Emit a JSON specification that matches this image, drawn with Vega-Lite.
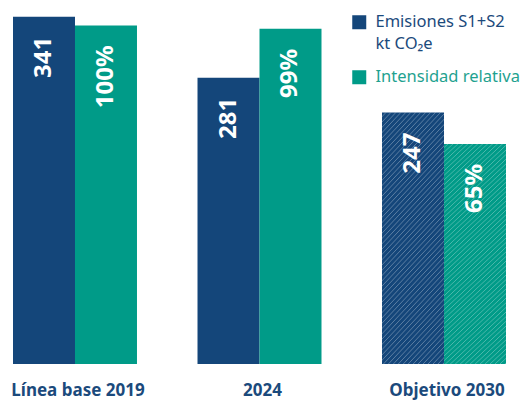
{
  "$schema": "https://vega.github.io/schema/vega-lite/v6.json",
  "width": 493,
  "height": 364,
  "autosize": {"type": "none"},
  "padding": {"left": 13, "top": 0, "right": 17, "bottom": 36},
  "background": "white",
  "config": {"font": "Noto Sans", "view": {"stroke": null}},
  "data": {
    "values": [
      {"grupo": "Línea base 2019", "serie": "Emisiones S1+S2 kt CO₂e", "valor": 341},
      {"grupo": "2024", "serie": "Emisiones S1+S2 kt CO₂e", "valor": 281},
      {"grupo": "Objetivo 2030", "serie": "Emisiones S1+S2 kt CO₂e", "valor": 247},
      {"grupo": "Línea base 2019", "serie": "Intensidad relativa", "valor": 1.0},
      {"grupo": "2024", "serie": "Intensidad relativa", "valor": 0.99},
      {"grupo": "Objetivo 2030", "serie": "Intensidad relativa", "valor": 0.65}
    ]
  },
  "encoding": {
    "x": {
      "field": "grupo", "type": "nominal",
      "sort": ["Línea base 2019", "2024", "Objetivo 2030"],
      "scale": {"paddingInner": 0.328, "paddingOuter": 0},
      "axis": {"title": null, "labelAngle": 0, "domain": false, "ticks": false, "tickSize": 0, "grid": false, "labelOffset": 3,
               "labelPadding": 18, "labelFontSize": 17, "labelFontWeight": "bold", "labelColor": "#1B4A7C", "labelFont": "Noto Sans"}
    },
    "xOffset": {
      "field": "serie", "type": "nominal",
      "sort": ["Emisiones S1+S2 kt CO₂e", "Intensidad relativa"],
      "scale": {"paddingInner": 0, "paddingOuter": 0}
    }
  },
  "layer": [
    {
      "transform": [{"filter": "datum.serie == 'Emisiones S1+S2 kt CO₂e'"}],
      "encoding": {"y": {"field": "valor", "type": "quantitative", "scale": {"domain": [0, 357.4], "nice": false}, "axis": null}},
      "layer": [
        {
          "mark": {"type": "bar"},
          "encoding": {
            "color": {
              "field": "serie", "type": "nominal",
              "scale": {"domain": ["Emisiones S1+S2 kt CO₂e", "Intensidad relativa"], "range": ["#14467A", "#009B88"]},
              "legend": {
                "title": null, "orient": "none", "legendX": 338, "legendY": 14,
                "symbolType": "square", "symbolSize": 196, "symbolStrokeWidth": 0,
                "labelFontSize": 16.5, "labelFont": "Noto Sans", "labelOffset": 8, "rowPadding": 16, "labelLimit": 300,
                "labelExpr": "datum.label == 'Intensidad relativa' ? datum.label : ['Emisiones S1+S2', 'kt CO₂e']",
                "encode": {"labels": {"update": {"fill": {"signal": "datum.label == 'Intensidad relativa' ? '#1FA290' : '#1B4A7C'"}, "lineHeight": {"value": 22}}}}
              }
            }
          }
        },
        {
          "transform": [{"filter": "datum.grupo == 'Objetivo 2030'"}],
          "mark": {"type": "bar", "fill": {"gradient": "linear", "x1": 0, "y1": 0, "x2": 0.3107, "y2": 1.181, "stops": [
            {"offset":0,"color":"rgba(255,255,255,0)"},{"offset":0.01,"color":"rgba(255,255,255,0)"},{"offset":0.0133,"color":"rgba(255,255,255,0.3)"},
            {"offset":0.0167,"color":"rgba(255,255,255,0)"},{"offset":0.0267,"color":"rgba(255,255,255,0)"},{"offset":0.03,"color":"rgba(255,255,255,0.3)"},
            {"offset":0.0333,"color":"rgba(255,255,255,0)"},{"offset":0.0433,"color":"rgba(255,255,255,0)"},{"offset":0.0467,"color":"rgba(255,255,255,0.3)"},
            {"offset":0.05,"color":"rgba(255,255,255,0)"},{"offset":0.06,"color":"rgba(255,255,255,0)"},{"offset":0.0633,"color":"rgba(255,255,255,0.3)"},
            {"offset":0.0667,"color":"rgba(255,255,255,0)"},{"offset":0.0767,"color":"rgba(255,255,255,0)"},{"offset":0.08,"color":"rgba(255,255,255,0.3)"},
            {"offset":0.0833,"color":"rgba(255,255,255,0)"},{"offset":0.0933,"color":"rgba(255,255,255,0)"},{"offset":0.0967,"color":"rgba(255,255,255,0.3)"},
            {"offset":0.1,"color":"rgba(255,255,255,0)"},{"offset":0.11,"color":"rgba(255,255,255,0)"},{"offset":0.1133,"color":"rgba(255,255,255,0.3)"},
            {"offset":0.1167,"color":"rgba(255,255,255,0)"},{"offset":0.1267,"color":"rgba(255,255,255,0)"},{"offset":0.13,"color":"rgba(255,255,255,0.3)"},
            {"offset":0.1333,"color":"rgba(255,255,255,0)"},{"offset":0.1433,"color":"rgba(255,255,255,0)"},{"offset":0.1467,"color":"rgba(255,255,255,0.3)"},
            {"offset":0.15,"color":"rgba(255,255,255,0)"},{"offset":0.16,"color":"rgba(255,255,255,0)"},{"offset":0.1633,"color":"rgba(255,255,255,0.3)"},
            {"offset":0.1667,"color":"rgba(255,255,255,0)"},{"offset":0.1767,"color":"rgba(255,255,255,0)"},{"offset":0.18,"color":"rgba(255,255,255,0.3)"},
            {"offset":0.1833,"color":"rgba(255,255,255,0)"},{"offset":0.1933,"color":"rgba(255,255,255,0)"},{"offset":0.1967,"color":"rgba(255,255,255,0.3)"},
            {"offset":0.2,"color":"rgba(255,255,255,0)"},{"offset":0.21,"color":"rgba(255,255,255,0)"},{"offset":0.2133,"color":"rgba(255,255,255,0.3)"},
            {"offset":0.2167,"color":"rgba(255,255,255,0)"},{"offset":0.2267,"color":"rgba(255,255,255,0)"},{"offset":0.23,"color":"rgba(255,255,255,0.3)"},
            {"offset":0.2333,"color":"rgba(255,255,255,0)"},{"offset":0.2433,"color":"rgba(255,255,255,0)"},{"offset":0.2467,"color":"rgba(255,255,255,0.3)"},
            {"offset":0.25,"color":"rgba(255,255,255,0)"},{"offset":0.26,"color":"rgba(255,255,255,0)"},{"offset":0.2633,"color":"rgba(255,255,255,0.3)"},
            {"offset":0.2667,"color":"rgba(255,255,255,0)"},{"offset":0.2767,"color":"rgba(255,255,255,0)"},{"offset":0.28,"color":"rgba(255,255,255,0.3)"},
            {"offset":0.2833,"color":"rgba(255,255,255,0)"},{"offset":0.2933,"color":"rgba(255,255,255,0)"},{"offset":0.2967,"color":"rgba(255,255,255,0.3)"},
            {"offset":0.3,"color":"rgba(255,255,255,0)"},{"offset":0.31,"color":"rgba(255,255,255,0)"},{"offset":0.3133,"color":"rgba(255,255,255,0.3)"},
            {"offset":0.3167,"color":"rgba(255,255,255,0)"},{"offset":0.3267,"color":"rgba(255,255,255,0)"},{"offset":0.33,"color":"rgba(255,255,255,0.3)"},
            {"offset":0.3333,"color":"rgba(255,255,255,0)"},{"offset":0.3433,"color":"rgba(255,255,255,0)"},{"offset":0.3467,"color":"rgba(255,255,255,0.3)"},
            {"offset":0.35,"color":"rgba(255,255,255,0)"},{"offset":0.36,"color":"rgba(255,255,255,0)"},{"offset":0.3633,"color":"rgba(255,255,255,0.3)"},
            {"offset":0.3667,"color":"rgba(255,255,255,0)"},{"offset":0.3767,"color":"rgba(255,255,255,0)"},{"offset":0.38,"color":"rgba(255,255,255,0.3)"},
            {"offset":0.3833,"color":"rgba(255,255,255,0)"},{"offset":0.3933,"color":"rgba(255,255,255,0)"},{"offset":0.3967,"color":"rgba(255,255,255,0.3)"},
            {"offset":0.4,"color":"rgba(255,255,255,0)"},{"offset":0.41,"color":"rgba(255,255,255,0)"},{"offset":0.4133,"color":"rgba(255,255,255,0.3)"},
            {"offset":0.4167,"color":"rgba(255,255,255,0)"},{"offset":0.4267,"color":"rgba(255,255,255,0)"},{"offset":0.43,"color":"rgba(255,255,255,0.3)"},
            {"offset":0.4333,"color":"rgba(255,255,255,0)"},{"offset":0.4433,"color":"rgba(255,255,255,0)"},{"offset":0.4467,"color":"rgba(255,255,255,0.3)"},
            {"offset":0.45,"color":"rgba(255,255,255,0)"},{"offset":0.46,"color":"rgba(255,255,255,0)"},{"offset":0.4633,"color":"rgba(255,255,255,0.3)"},
            {"offset":0.4667,"color":"rgba(255,255,255,0)"},{"offset":0.4767,"color":"rgba(255,255,255,0)"},{"offset":0.48,"color":"rgba(255,255,255,0.3)"},
            {"offset":0.4833,"color":"rgba(255,255,255,0)"},{"offset":0.4933,"color":"rgba(255,255,255,0)"},{"offset":0.4967,"color":"rgba(255,255,255,0.3)"},
            {"offset":0.5,"color":"rgba(255,255,255,0)"},{"offset":0.51,"color":"rgba(255,255,255,0)"},{"offset":0.5133,"color":"rgba(255,255,255,0.3)"},
            {"offset":0.5167,"color":"rgba(255,255,255,0)"},{"offset":0.5267,"color":"rgba(255,255,255,0)"},{"offset":0.53,"color":"rgba(255,255,255,0.3)"},
            {"offset":0.5333,"color":"rgba(255,255,255,0)"},{"offset":0.5433,"color":"rgba(255,255,255,0)"},{"offset":0.5467,"color":"rgba(255,255,255,0.3)"},
            {"offset":0.55,"color":"rgba(255,255,255,0)"},{"offset":0.56,"color":"rgba(255,255,255,0)"},{"offset":0.5633,"color":"rgba(255,255,255,0.3)"},
            {"offset":0.5667,"color":"rgba(255,255,255,0)"},{"offset":0.5767,"color":"rgba(255,255,255,0)"},{"offset":0.58,"color":"rgba(255,255,255,0.3)"},
            {"offset":0.5833,"color":"rgba(255,255,255,0)"},{"offset":0.5933,"color":"rgba(255,255,255,0)"},{"offset":0.5967,"color":"rgba(255,255,255,0.3)"},
            {"offset":0.6,"color":"rgba(255,255,255,0)"},{"offset":0.61,"color":"rgba(255,255,255,0)"},{"offset":0.6133,"color":"rgba(255,255,255,0.3)"},
            {"offset":0.6167,"color":"rgba(255,255,255,0)"},{"offset":0.6267,"color":"rgba(255,255,255,0)"},{"offset":0.63,"color":"rgba(255,255,255,0.3)"},
            {"offset":0.6333,"color":"rgba(255,255,255,0)"},{"offset":0.6433,"color":"rgba(255,255,255,0)"},{"offset":0.6467,"color":"rgba(255,255,255,0.3)"},
            {"offset":0.65,"color":"rgba(255,255,255,0)"},{"offset":0.66,"color":"rgba(255,255,255,0)"},{"offset":0.6633,"color":"rgba(255,255,255,0.3)"},
            {"offset":0.6667,"color":"rgba(255,255,255,0)"},{"offset":0.6767,"color":"rgba(255,255,255,0)"},{"offset":0.68,"color":"rgba(255,255,255,0.3)"},
            {"offset":0.6833,"color":"rgba(255,255,255,0)"},{"offset":0.6933,"color":"rgba(255,255,255,0)"},{"offset":0.6967,"color":"rgba(255,255,255,0.3)"},
            {"offset":0.7,"color":"rgba(255,255,255,0)"},{"offset":0.71,"color":"rgba(255,255,255,0)"},{"offset":0.7133,"color":"rgba(255,255,255,0.3)"},
            {"offset":0.7167,"color":"rgba(255,255,255,0)"},{"offset":0.7267,"color":"rgba(255,255,255,0)"},{"offset":0.73,"color":"rgba(255,255,255,0.3)"},
            {"offset":0.7333,"color":"rgba(255,255,255,0)"},{"offset":0.7433,"color":"rgba(255,255,255,0)"},{"offset":0.7467,"color":"rgba(255,255,255,0.3)"},
            {"offset":0.75,"color":"rgba(255,255,255,0)"},{"offset":0.76,"color":"rgba(255,255,255,0)"},{"offset":0.7633,"color":"rgba(255,255,255,0.3)"},
            {"offset":0.7667,"color":"rgba(255,255,255,0)"},{"offset":0.7767,"color":"rgba(255,255,255,0)"},{"offset":0.78,"color":"rgba(255,255,255,0.3)"},
            {"offset":0.7833,"color":"rgba(255,255,255,0)"},{"offset":0.7933,"color":"rgba(255,255,255,0)"},{"offset":0.7967,"color":"rgba(255,255,255,0.3)"},
            {"offset":0.8,"color":"rgba(255,255,255,0)"},{"offset":0.81,"color":"rgba(255,255,255,0)"},{"offset":0.8133,"color":"rgba(255,255,255,0.3)"},
            {"offset":0.8167,"color":"rgba(255,255,255,0)"},{"offset":0.8267,"color":"rgba(255,255,255,0)"},{"offset":0.83,"color":"rgba(255,255,255,0.3)"},
            {"offset":0.8333,"color":"rgba(255,255,255,0)"},{"offset":0.8433,"color":"rgba(255,255,255,0)"},{"offset":0.8467,"color":"rgba(255,255,255,0.3)"},
            {"offset":0.85,"color":"rgba(255,255,255,0)"},{"offset":0.86,"color":"rgba(255,255,255,0)"},{"offset":0.8633,"color":"rgba(255,255,255,0.3)"},
            {"offset":0.8667,"color":"rgba(255,255,255,0)"},{"offset":0.8767,"color":"rgba(255,255,255,0)"},{"offset":0.88,"color":"rgba(255,255,255,0.3)"},
            {"offset":0.8833,"color":"rgba(255,255,255,0)"},{"offset":0.8933,"color":"rgba(255,255,255,0)"},{"offset":0.8967,"color":"rgba(255,255,255,0.3)"},
            {"offset":0.9,"color":"rgba(255,255,255,0)"},{"offset":0.91,"color":"rgba(255,255,255,0)"},{"offset":0.9133,"color":"rgba(255,255,255,0.3)"},
            {"offset":0.9167,"color":"rgba(255,255,255,0)"},{"offset":0.9267,"color":"rgba(255,255,255,0)"},{"offset":0.93,"color":"rgba(255,255,255,0.3)"},
            {"offset":0.9333,"color":"rgba(255,255,255,0)"},{"offset":0.9433,"color":"rgba(255,255,255,0)"},{"offset":0.9467,"color":"rgba(255,255,255,0.3)"},
            {"offset":0.95,"color":"rgba(255,255,255,0)"},{"offset":0.96,"color":"rgba(255,255,255,0)"},{"offset":0.9633,"color":"rgba(255,255,255,0.3)"},
            {"offset":0.9667,"color":"rgba(255,255,255,0)"},{"offset":0.9767,"color":"rgba(255,255,255,0)"},{"offset":0.98,"color":"rgba(255,255,255,0.3)"},
            {"offset":0.9833,"color":"rgba(255,255,255,0)"},{"offset":0.9933,"color":"rgba(255,255,255,0)"},{"offset":0.9967,"color":"rgba(255,255,255,0.3)"},
            {"offset":1,"color":"rgba(255,255,255,0)"}
          ]}}
        },
        {
          "mark": {"type": "text", "angle": -90, "align": "right", "baseline": "middle", "dx": -20, "fontSize": 24, "fontWeight": "bold", "fill": "white", "font": "Noto Sans"},
          "encoding": {"text": {"field": "valor", "type": "quantitative", "format": "d"}}
        }
      ]
    },
    {
      "transform": [{"filter": "datum.serie == 'Intensidad relativa'"}],
      "encoding": {"y": {"field": "valor", "type": "quantitative", "scale": {"domain": [0, 1.075], "nice": false}, "axis": null}},
      "layer": [
        {
          "mark": {"type": "bar"},
          "encoding": {
            "color": {
              "field": "serie", "type": "nominal",
              "scale": {"domain": ["Emisiones S1+S2 kt CO₂e", "Intensidad relativa"], "range": ["#14467A", "#009B88"]}
            }
          }
        },
        {
          "transform": [{"filter": "datum.grupo == 'Objetivo 2030'"}],
          "mark": {"type": "bar", "fill": {"gradient": "linear", "x1": 0, "y1": 0, "x2": 0.3107, "y2": 1.181, "stops": [
            {"offset":0,"color":"rgba(255,255,255,0)"},{"offset":0.01,"color":"rgba(255,255,255,0)"},{"offset":0.0133,"color":"rgba(255,255,255,0.3)"},
            {"offset":0.0167,"color":"rgba(255,255,255,0)"},{"offset":0.0267,"color":"rgba(255,255,255,0)"},{"offset":0.03,"color":"rgba(255,255,255,0.3)"},
            {"offset":0.0333,"color":"rgba(255,255,255,0)"},{"offset":0.0433,"color":"rgba(255,255,255,0)"},{"offset":0.0467,"color":"rgba(255,255,255,0.3)"},
            {"offset":0.05,"color":"rgba(255,255,255,0)"},{"offset":0.06,"color":"rgba(255,255,255,0)"},{"offset":0.0633,"color":"rgba(255,255,255,0.3)"},
            {"offset":0.0667,"color":"rgba(255,255,255,0)"},{"offset":0.0767,"color":"rgba(255,255,255,0)"},{"offset":0.08,"color":"rgba(255,255,255,0.3)"},
            {"offset":0.0833,"color":"rgba(255,255,255,0)"},{"offset":0.0933,"color":"rgba(255,255,255,0)"},{"offset":0.0967,"color":"rgba(255,255,255,0.3)"},
            {"offset":0.1,"color":"rgba(255,255,255,0)"},{"offset":0.11,"color":"rgba(255,255,255,0)"},{"offset":0.1133,"color":"rgba(255,255,255,0.3)"},
            {"offset":0.1167,"color":"rgba(255,255,255,0)"},{"offset":0.1267,"color":"rgba(255,255,255,0)"},{"offset":0.13,"color":"rgba(255,255,255,0.3)"},
            {"offset":0.1333,"color":"rgba(255,255,255,0)"},{"offset":0.1433,"color":"rgba(255,255,255,0)"},{"offset":0.1467,"color":"rgba(255,255,255,0.3)"},
            {"offset":0.15,"color":"rgba(255,255,255,0)"},{"offset":0.16,"color":"rgba(255,255,255,0)"},{"offset":0.1633,"color":"rgba(255,255,255,0.3)"},
            {"offset":0.1667,"color":"rgba(255,255,255,0)"},{"offset":0.1767,"color":"rgba(255,255,255,0)"},{"offset":0.18,"color":"rgba(255,255,255,0.3)"},
            {"offset":0.1833,"color":"rgba(255,255,255,0)"},{"offset":0.1933,"color":"rgba(255,255,255,0)"},{"offset":0.1967,"color":"rgba(255,255,255,0.3)"},
            {"offset":0.2,"color":"rgba(255,255,255,0)"},{"offset":0.21,"color":"rgba(255,255,255,0)"},{"offset":0.2133,"color":"rgba(255,255,255,0.3)"},
            {"offset":0.2167,"color":"rgba(255,255,255,0)"},{"offset":0.2267,"color":"rgba(255,255,255,0)"},{"offset":0.23,"color":"rgba(255,255,255,0.3)"},
            {"offset":0.2333,"color":"rgba(255,255,255,0)"},{"offset":0.2433,"color":"rgba(255,255,255,0)"},{"offset":0.2467,"color":"rgba(255,255,255,0.3)"},
            {"offset":0.25,"color":"rgba(255,255,255,0)"},{"offset":0.26,"color":"rgba(255,255,255,0)"},{"offset":0.2633,"color":"rgba(255,255,255,0.3)"},
            {"offset":0.2667,"color":"rgba(255,255,255,0)"},{"offset":0.2767,"color":"rgba(255,255,255,0)"},{"offset":0.28,"color":"rgba(255,255,255,0.3)"},
            {"offset":0.2833,"color":"rgba(255,255,255,0)"},{"offset":0.2933,"color":"rgba(255,255,255,0)"},{"offset":0.2967,"color":"rgba(255,255,255,0.3)"},
            {"offset":0.3,"color":"rgba(255,255,255,0)"},{"offset":0.31,"color":"rgba(255,255,255,0)"},{"offset":0.3133,"color":"rgba(255,255,255,0.3)"},
            {"offset":0.3167,"color":"rgba(255,255,255,0)"},{"offset":0.3267,"color":"rgba(255,255,255,0)"},{"offset":0.33,"color":"rgba(255,255,255,0.3)"},
            {"offset":0.3333,"color":"rgba(255,255,255,0)"},{"offset":0.3433,"color":"rgba(255,255,255,0)"},{"offset":0.3467,"color":"rgba(255,255,255,0.3)"},
            {"offset":0.35,"color":"rgba(255,255,255,0)"},{"offset":0.36,"color":"rgba(255,255,255,0)"},{"offset":0.3633,"color":"rgba(255,255,255,0.3)"},
            {"offset":0.3667,"color":"rgba(255,255,255,0)"},{"offset":0.3767,"color":"rgba(255,255,255,0)"},{"offset":0.38,"color":"rgba(255,255,255,0.3)"},
            {"offset":0.3833,"color":"rgba(255,255,255,0)"},{"offset":0.3933,"color":"rgba(255,255,255,0)"},{"offset":0.3967,"color":"rgba(255,255,255,0.3)"},
            {"offset":0.4,"color":"rgba(255,255,255,0)"},{"offset":0.41,"color":"rgba(255,255,255,0)"},{"offset":0.4133,"color":"rgba(255,255,255,0.3)"},
            {"offset":0.4167,"color":"rgba(255,255,255,0)"},{"offset":0.4267,"color":"rgba(255,255,255,0)"},{"offset":0.43,"color":"rgba(255,255,255,0.3)"},
            {"offset":0.4333,"color":"rgba(255,255,255,0)"},{"offset":0.4433,"color":"rgba(255,255,255,0)"},{"offset":0.4467,"color":"rgba(255,255,255,0.3)"},
            {"offset":0.45,"color":"rgba(255,255,255,0)"},{"offset":0.46,"color":"rgba(255,255,255,0)"},{"offset":0.4633,"color":"rgba(255,255,255,0.3)"},
            {"offset":0.4667,"color":"rgba(255,255,255,0)"},{"offset":0.4767,"color":"rgba(255,255,255,0)"},{"offset":0.48,"color":"rgba(255,255,255,0.3)"},
            {"offset":0.4833,"color":"rgba(255,255,255,0)"},{"offset":0.4933,"color":"rgba(255,255,255,0)"},{"offset":0.4967,"color":"rgba(255,255,255,0.3)"},
            {"offset":0.5,"color":"rgba(255,255,255,0)"},{"offset":0.51,"color":"rgba(255,255,255,0)"},{"offset":0.5133,"color":"rgba(255,255,255,0.3)"},
            {"offset":0.5167,"color":"rgba(255,255,255,0)"},{"offset":0.5267,"color":"rgba(255,255,255,0)"},{"offset":0.53,"color":"rgba(255,255,255,0.3)"},
            {"offset":0.5333,"color":"rgba(255,255,255,0)"},{"offset":0.5433,"color":"rgba(255,255,255,0)"},{"offset":0.5467,"color":"rgba(255,255,255,0.3)"},
            {"offset":0.55,"color":"rgba(255,255,255,0)"},{"offset":0.56,"color":"rgba(255,255,255,0)"},{"offset":0.5633,"color":"rgba(255,255,255,0.3)"},
            {"offset":0.5667,"color":"rgba(255,255,255,0)"},{"offset":0.5767,"color":"rgba(255,255,255,0)"},{"offset":0.58,"color":"rgba(255,255,255,0.3)"},
            {"offset":0.5833,"color":"rgba(255,255,255,0)"},{"offset":0.5933,"color":"rgba(255,255,255,0)"},{"offset":0.5967,"color":"rgba(255,255,255,0.3)"},
            {"offset":0.6,"color":"rgba(255,255,255,0)"},{"offset":0.61,"color":"rgba(255,255,255,0)"},{"offset":0.6133,"color":"rgba(255,255,255,0.3)"},
            {"offset":0.6167,"color":"rgba(255,255,255,0)"},{"offset":0.6267,"color":"rgba(255,255,255,0)"},{"offset":0.63,"color":"rgba(255,255,255,0.3)"},
            {"offset":0.6333,"color":"rgba(255,255,255,0)"},{"offset":0.6433,"color":"rgba(255,255,255,0)"},{"offset":0.6467,"color":"rgba(255,255,255,0.3)"},
            {"offset":0.65,"color":"rgba(255,255,255,0)"},{"offset":0.66,"color":"rgba(255,255,255,0)"},{"offset":0.6633,"color":"rgba(255,255,255,0.3)"},
            {"offset":0.6667,"color":"rgba(255,255,255,0)"},{"offset":0.6767,"color":"rgba(255,255,255,0)"},{"offset":0.68,"color":"rgba(255,255,255,0.3)"},
            {"offset":0.6833,"color":"rgba(255,255,255,0)"},{"offset":0.6933,"color":"rgba(255,255,255,0)"},{"offset":0.6967,"color":"rgba(255,255,255,0.3)"},
            {"offset":0.7,"color":"rgba(255,255,255,0)"},{"offset":0.71,"color":"rgba(255,255,255,0)"},{"offset":0.7133,"color":"rgba(255,255,255,0.3)"},
            {"offset":0.7167,"color":"rgba(255,255,255,0)"},{"offset":0.7267,"color":"rgba(255,255,255,0)"},{"offset":0.73,"color":"rgba(255,255,255,0.3)"},
            {"offset":0.7333,"color":"rgba(255,255,255,0)"},{"offset":0.7433,"color":"rgba(255,255,255,0)"},{"offset":0.7467,"color":"rgba(255,255,255,0.3)"},
            {"offset":0.75,"color":"rgba(255,255,255,0)"},{"offset":0.76,"color":"rgba(255,255,255,0)"},{"offset":0.7633,"color":"rgba(255,255,255,0.3)"},
            {"offset":0.7667,"color":"rgba(255,255,255,0)"},{"offset":0.7767,"color":"rgba(255,255,255,0)"},{"offset":0.78,"color":"rgba(255,255,255,0.3)"},
            {"offset":0.7833,"color":"rgba(255,255,255,0)"},{"offset":0.7933,"color":"rgba(255,255,255,0)"},{"offset":0.7967,"color":"rgba(255,255,255,0.3)"},
            {"offset":0.8,"color":"rgba(255,255,255,0)"},{"offset":0.81,"color":"rgba(255,255,255,0)"},{"offset":0.8133,"color":"rgba(255,255,255,0.3)"},
            {"offset":0.8167,"color":"rgba(255,255,255,0)"},{"offset":0.8267,"color":"rgba(255,255,255,0)"},{"offset":0.83,"color":"rgba(255,255,255,0.3)"},
            {"offset":0.8333,"color":"rgba(255,255,255,0)"},{"offset":0.8433,"color":"rgba(255,255,255,0)"},{"offset":0.8467,"color":"rgba(255,255,255,0.3)"},
            {"offset":0.85,"color":"rgba(255,255,255,0)"},{"offset":0.86,"color":"rgba(255,255,255,0)"},{"offset":0.8633,"color":"rgba(255,255,255,0.3)"},
            {"offset":0.8667,"color":"rgba(255,255,255,0)"},{"offset":0.8767,"color":"rgba(255,255,255,0)"},{"offset":0.88,"color":"rgba(255,255,255,0.3)"},
            {"offset":0.8833,"color":"rgba(255,255,255,0)"},{"offset":0.8933,"color":"rgba(255,255,255,0)"},{"offset":0.8967,"color":"rgba(255,255,255,0.3)"},
            {"offset":0.9,"color":"rgba(255,255,255,0)"},{"offset":0.91,"color":"rgba(255,255,255,0)"},{"offset":0.9133,"color":"rgba(255,255,255,0.3)"},
            {"offset":0.9167,"color":"rgba(255,255,255,0)"},{"offset":0.9267,"color":"rgba(255,255,255,0)"},{"offset":0.93,"color":"rgba(255,255,255,0.3)"},
            {"offset":0.9333,"color":"rgba(255,255,255,0)"},{"offset":0.9433,"color":"rgba(255,255,255,0)"},{"offset":0.9467,"color":"rgba(255,255,255,0.3)"},
            {"offset":0.95,"color":"rgba(255,255,255,0)"},{"offset":0.96,"color":"rgba(255,255,255,0)"},{"offset":0.9633,"color":"rgba(255,255,255,0.3)"},
            {"offset":0.9667,"color":"rgba(255,255,255,0)"},{"offset":0.9767,"color":"rgba(255,255,255,0)"},{"offset":0.98,"color":"rgba(255,255,255,0.3)"},
            {"offset":0.9833,"color":"rgba(255,255,255,0)"},{"offset":0.9933,"color":"rgba(255,255,255,0)"},{"offset":0.9967,"color":"rgba(255,255,255,0.3)"},
            {"offset":1,"color":"rgba(255,255,255,0)"}
          ]}}
        },
        {
          "mark": {"type": "text", "angle": -90, "align": "right", "baseline": "middle", "dx": -20, "fontSize": 24, "fontWeight": "bold", "fill": "white", "font": "Noto Sans"},
          "encoding": {"text": {"field": "valor", "type": "quantitative", "format": ".0%"}}
        }
      ]
    }
  ],
  "resolve": {"scale": {"y": "independent"}}
}
